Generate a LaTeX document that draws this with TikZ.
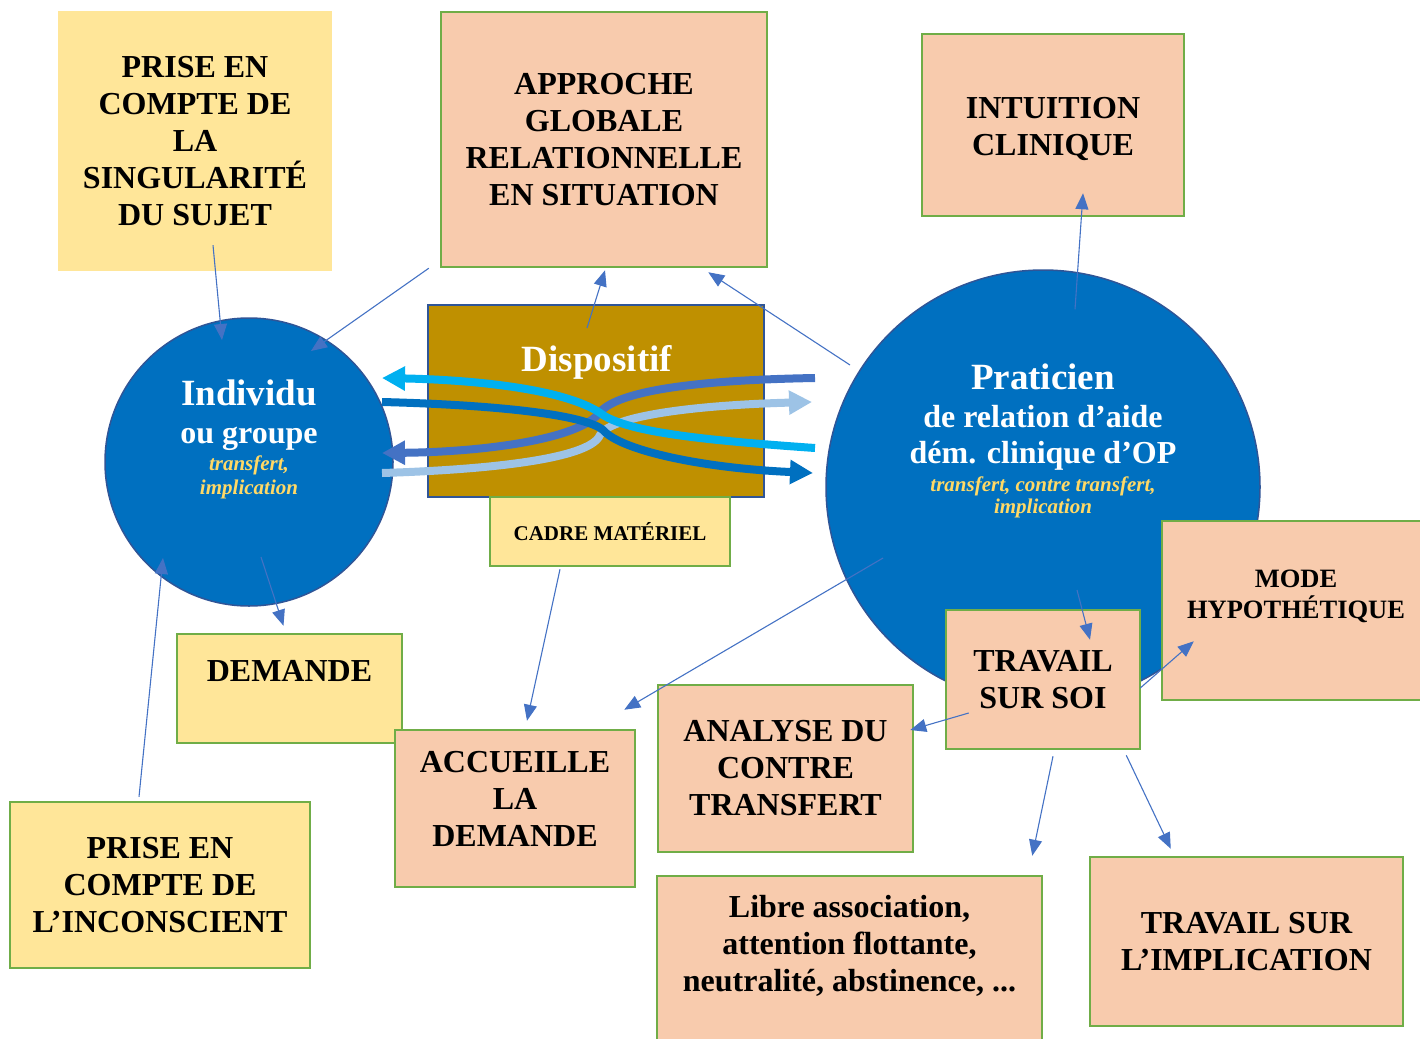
\documentclass[tikz,border=0pt]{standalone}
\usepackage{fontspec}
\setmainfont{Liberation Serif}
\usetikzlibrary{calc,arrows.meta}

\definecolor{jaune}{HTML}{FFE699}
\definecolor{saumon}{HTML}{F8CBAD}
\definecolor{vert}{HTML}{70AD47}
\definecolor{bleu}{HTML}{0070C0}
\definecolor{bleufonce}{HTML}{2F5597}
\definecolor{bleumoyen}{HTML}{4472C4}
\definecolor{ciel}{HTML}{00B0F0}
\definecolor{bleuclair}{HTML}{9DC3E6}
\definecolor{ocre}{HTML}{BF9000}
\definecolor{jauneit}{HTML}{FFD966}

\begin{document}
\begin{tikzpicture}[x=1pt,y=-1pt,
  boite/.style={draw=vert,line width=2.5pt,align=center,inner sep=0pt,
    font=\bfseries\fontsize{32}{37}\selectfont},
  boitej/.style={boite,fill=jaune},
  boites/.style={boite,fill=saumon},
  rond/.style={circle,fill=bleu,draw=bleufonce,line width=1.5pt,inner sep=0pt},
  titre/.style={anchor=base,white,font=\bfseries\fontsize{37}{40}\selectfont},
  sous/.style={anchor=base,white,font=\bfseries\fontsize{32}{37}\selectfont},
  ital/.style={anchor=base,jauneit,font=\bfseries\itshape\fontsize{21}{24}\selectfont},
  lien/.style={bleumoyen,line width=1.1pt,-{Triangle[length=16pt,width=13pt]}},
  flux/.style={line width=8pt,-{Triangle[length=23pt,width=23pt]}}]
\useasboundingbox (0,0) rectangle (1420,1038);

\node[rond,minimum size=288pt] (indiv) at (249,462) {};
\node[titre] (indiv1) at ($(indiv)+(0,-57)$) {Individu};
\node[sous] (indiv2) at ($(indiv)+(0,-19)$) {ou groupe};
\node[ital] (indiv3) at ($(indiv)+(0,8)$) {transfert,};
\node[ital] (indiv4) at ($(indiv)+(0,32)$) {implication};

\node[rond,minimum size=434pt] (prat) at (1043,487) {};
\node[titre] (prat1) at ($(prat)+(0,-98)$) {Praticien};
\node[sous] (prat2) at ($(prat)+(0,-60)$) {de relation d’aide};
\node[sous] (prat3) at ($(prat)+(0,-24)$) {dém. clinique d’OP};
\node[ital] (prat4) at ($(prat)+(0,4)$) {transfert, contre transfert,};
\node[ital] (prat5) at ($(prat)+(0,26)$) {implication};

\node[fill=ocre,draw=bleufonce,line width=2pt,minimum width=336pt,minimum height=192pt] (disp) at (596,401) {};
\node[white,font=\bfseries\fontsize{37}{40}\selectfont] (dispt) at ($(disp.north)+(1,58)$) {Dispositif};

% flux dans le dispositif
\draw[flux,bleuclair] (382,473) .. controls (480,470) and (590,460) .. (600,435)
  .. controls (612,415) and (700,405) .. (812,402);
\draw[flux,bleumoyen] (815,378) .. controls (700,380) and (620,390) .. (600,412)
  .. controls (580,440) and (480,452) .. (382,453);
\draw[flux,bleu] (382,402) .. controls (500,405) and (585,415) .. (603,430)
  .. controls (620,450) and (700,468) .. (813,473);
\draw[flux,ciel] (815,448) .. controls (700,440) and (630,432) .. (603,415)
  .. controls (570,390) and (480,380) .. (382,378);

\node[boitej,draw=none,minimum width=274pt,minimum height=260pt] (sing) at (195,141)
  {PRISE EN\\COMPTE DE\\LA\\SINGULARITÉ\\DU SUJET};
\node[boites,minimum width=326pt,minimum height=255pt] (appr) at (604,139.5)
  {APPROCHE\\GLOBALE\\RELATIONNELLE\\EN SITUATION};
\node[boites,minimum width=262pt,minimum height=182pt,text height=66pt] (intu) at (1053,125)
  {INTUITION\\CLINIQUE};
\node[boitej,minimum width=240pt,minimum height=69pt,font=\bfseries\fontsize{21}{24}\selectfont] (cadre) at (610,531.5)
  {CADRE MATÉRIEL};
\node[boitej,minimum width=225pt,minimum height=109pt,text depth=35pt] (dem) at (289.5,688.5)
  {DEMANDE};
\node[boites,minimum width=240pt,minimum height=157pt,text depth=20pt] (accu) at (515,808.5)
  {ACCUEILLE\\LA\\DEMANDE};
\node[boites,minimum width=255pt,minimum height=167pt] (anal) at (785.5,768.5)
  {ANALYSE DU\\CONTRE\\TRANSFERT};
\node[boites,minimum width=268pt,minimum height=179pt,text depth=32pt,
  font=\bfseries\fontsize{26.5}{31}\selectfont] (mode) at (1296,610.5)
  {MODE\\HYPOTHÉTIQUE};
\node[boites,minimum width=194pt,minimum height=139pt] (soi) at (1043,679.5)
  {TRAVAIL\\SUR SOI};
\node[boitej,minimum width=300pt,minimum height=166pt] (incons) at (160,885)
  {PRISE EN\\COMPTE DE\\L’INCONSCIENT};
\node[boites,minimum width=385pt,minimum height=169pt,text depth=34pt] (libre) at (849.5,960.5)
  {Libre association,\\attention flottante,\\neutralité, abstinence, ...};
\node[boites,minimum width=313pt,minimum height=169pt] (impl) at (1246.5,941.5)
  {TRAVAIL SUR\\L’IMPLICATION};

\draw[lien] ($(sing.south)+(18,-27)$) -- ($(indiv)+(-27,-122)$);
\draw[lien] ($(appr.south west)+(-11,0)$) -- ($(indiv)+(62,-111)$);
\draw[lien] ($(disp.north)+(-9,24)$) -- ($(appr.south)+(1,2)$);
\draw[lien] ($(prat)+(-193,-122)$) -- ($(appr.south east)+(-60,4)$);
\draw[lien] ($(prat.north)+(32,40)$) -- ($(intu.south)+(30,-24)$);
\draw[lien] ($(indiv)+(12,95)$) -- ($(dem.north)+(-6,-7)$);
\draw[lien] ($(incons.north)+(-21,-4)$) -- ($(indiv)+(-86,96)$);
\draw[lien] ($(cadre.south)+(-50,2)$) -- ($(accu.north)+(12,-8)$);
\draw[lien] ($(prat)+(-160,71)$) -- ($(accu.north east)+(-12,-19)$);
\draw[lien] ($(prat)+(34,103)$) -- ($(soi.north)+(47,31)$);
\draw[lien] ($(soi.west)+(24,33.5)$) -- ($(anal.east)+(-4,-38.5)$);
\draw[lien] ($(soi.east)+(-1,8.5)$) -- ($(mode.south west)+(33,-60)$);
\draw[lien] ($(soi.south)+(10,6)$) -- ($(libre.north east)+(-11,-19)$);
\draw[lien] ($(soi.south east)+(-15,5)$) -- ($(impl.north west)+(82,-7)$);

\end{tikzpicture}
\end{document}
